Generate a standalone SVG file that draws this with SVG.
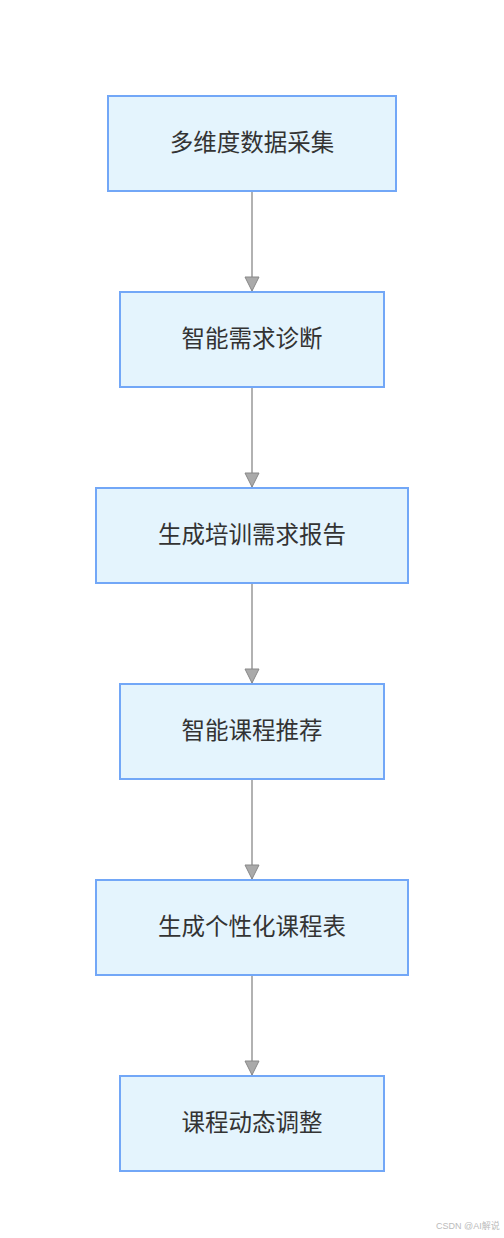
<svg xmlns="http://www.w3.org/2000/svg" width="504" height="1238" viewBox="0 0 504 1238">
<style>
.n rect{fill:#e4f4fd;stroke:#72a7f7;stroke-width:2}
.n text{font-family:"Noto Sans CJK SC","Noto Sans",sans-serif;font-size:23.5px;fill:#333;text-anchor:middle;dominant-baseline:central}
.e line{stroke:#999;stroke-width:1.5}
.wm{font-family:"Liberation Sans","Noto Sans CJK SC",sans-serif;font-size:9px;fill:#bbb}
</style>
<defs>
<marker id="ah" viewBox="0 0 16 16" refX="15" refY="8" markerWidth="16" markerHeight="16" markerUnits="userSpaceOnUse" orient="auto">
<path d="M1,1 L15,8 L1,15 Z" fill="#aaa" stroke="#888" stroke-width="1"/>
</marker>
</defs>
<rect width="504" height="1238" fill="#fff"/>
<g class="e">
<line x1="252" y1="192" x2="252" y2="291" marker-end="url(#ah)"/>
<line x1="252" y1="388" x2="252" y2="487" marker-end="url(#ah)"/>
<line x1="252" y1="584" x2="252" y2="683" marker-end="url(#ah)"/>
<line x1="252" y1="780" x2="252" y2="879" marker-end="url(#ah)"/>
<line x1="252" y1="976" x2="252" y2="1075" marker-end="url(#ah)"/>
</g>
<g id="n1" class="n"><rect x="108" y="96" width="288" height="95"/><text x="252" y="141">多维度数据采集</text></g>
<g id="n2" class="n"><rect x="120" y="292" width="264" height="95"/><text x="252" y="337">智能需求诊断</text></g>
<g id="n3" class="n"><rect x="96" y="488" width="312" height="95"/><text x="252" y="533">生成培训需求报告</text></g>
<g id="n4" class="n"><rect x="120" y="684" width="264" height="95"/><text x="252" y="729">智能课程推荐</text></g>
<g id="n5" class="n"><rect x="96" y="880" width="312" height="95"/><text x="252" y="925">生成个性化课程表</text></g>
<g id="n6" class="n"><rect x="120" y="1076" width="264" height="95"/><text x="252" y="1121">课程动态调整</text></g>
<text class="wm" x="436" y="1229">CSDN @AI解说</text>
</svg>
